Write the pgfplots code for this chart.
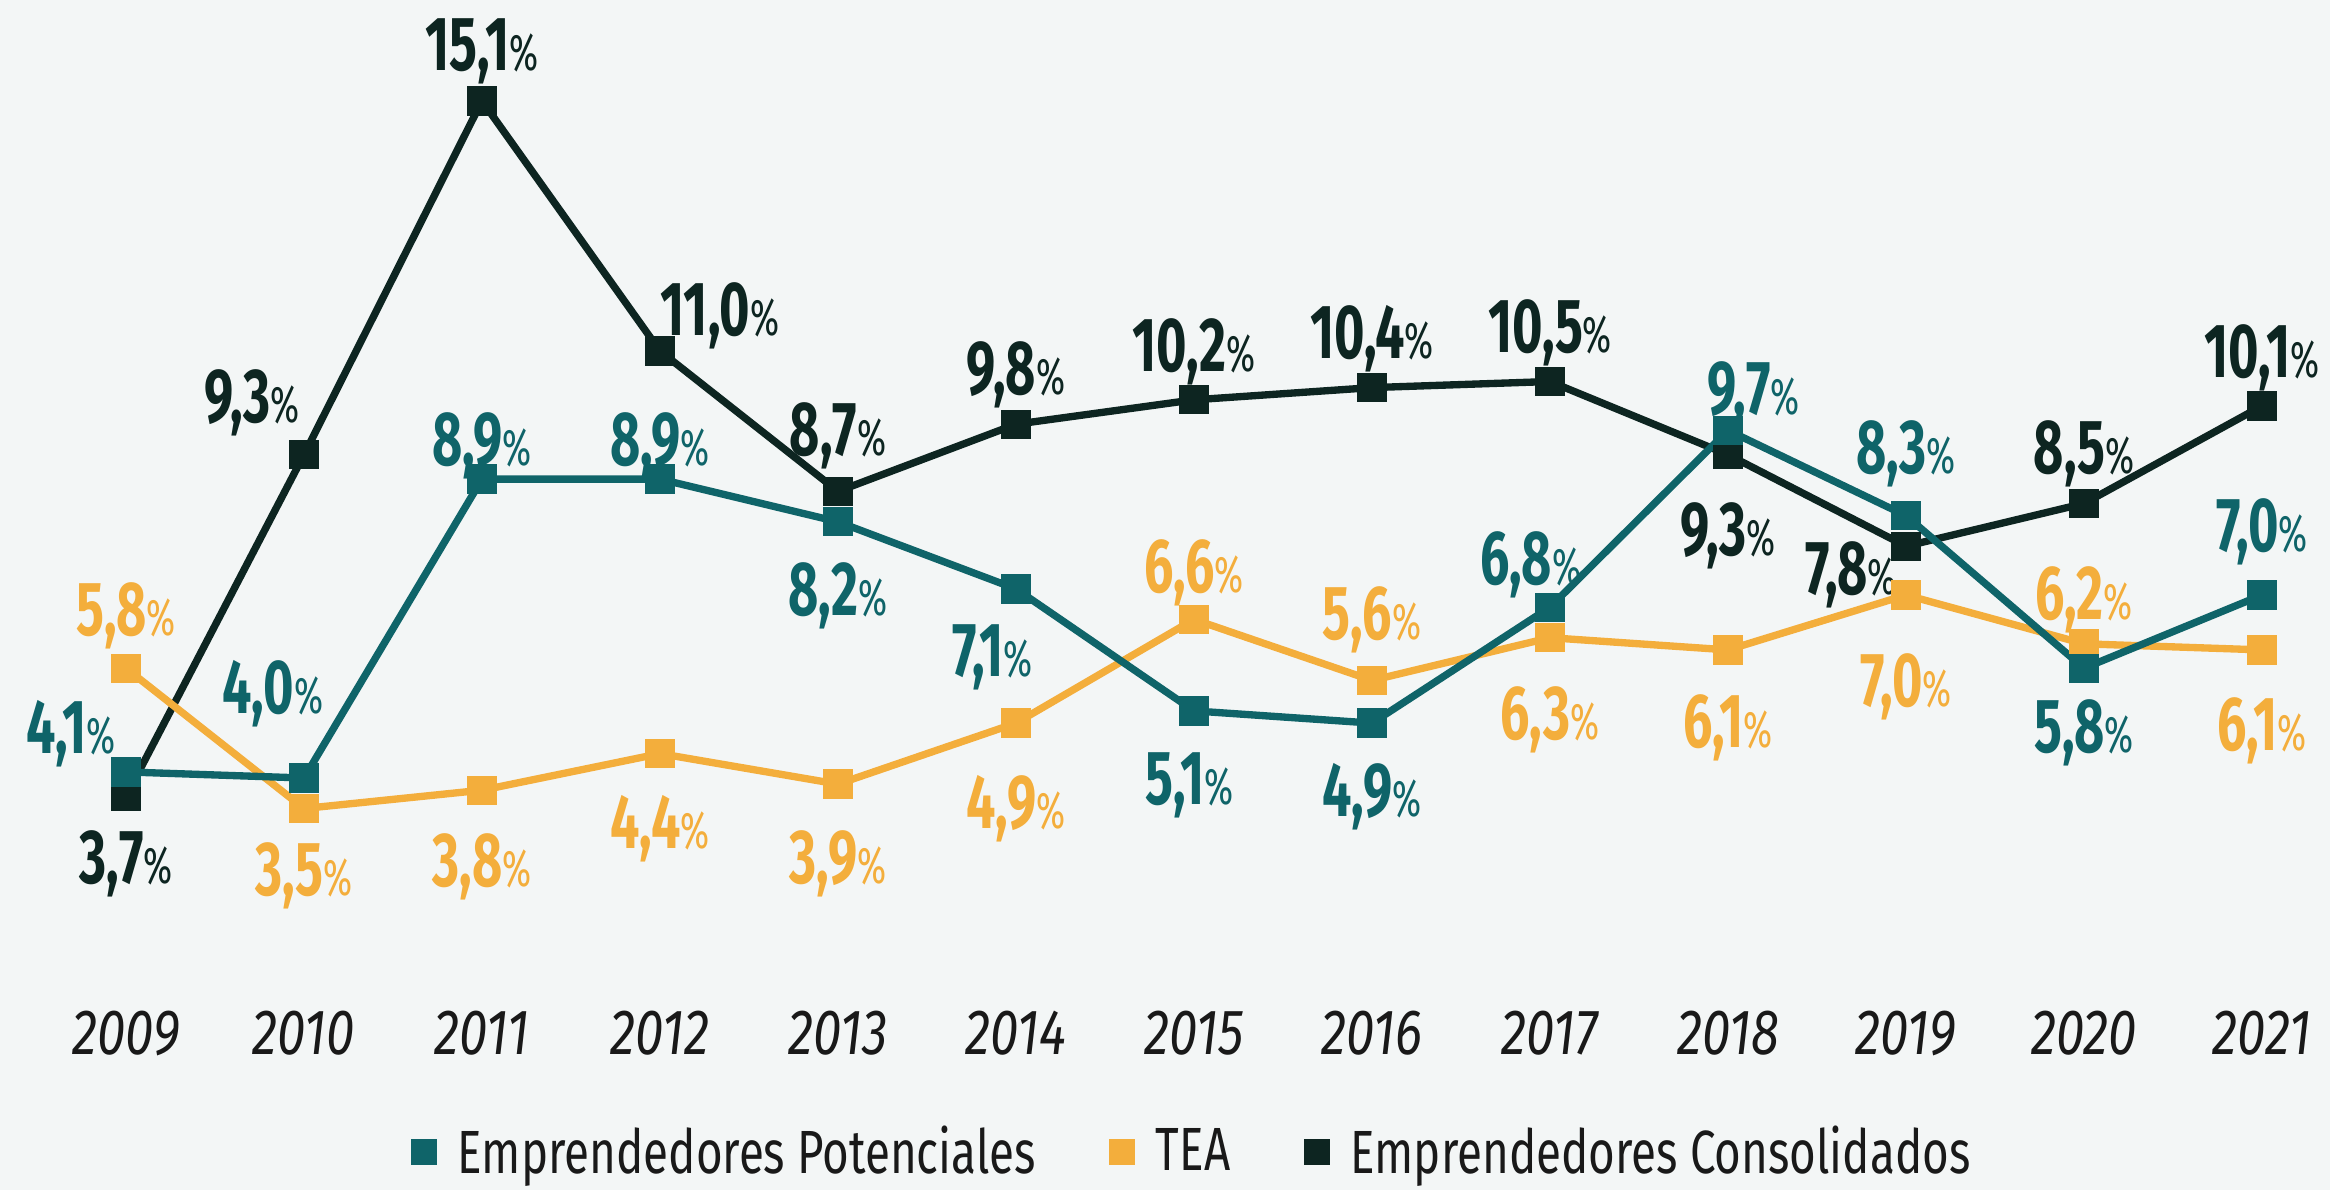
\documentclass[border=0pt]{standalone}
\usepackage{fontspec}
\setmainfont{Fira Sans}[FakeStretch=0.72]
\newfontfamily\labfont{Fira Sans}[FakeStretch=0.68]
\newfontfamily\yearfont{Fira Sans}[FakeStretch=0.8]
\newfontfamily\legfont{Fira Sans}[FakeStretch=0.75]
\usepackage{pgfplots}
\pgfplotsset{compat=1.18}
\usepackage{pgfplotstable}
\definecolor{cteal}{HTML}{0F6469}
\definecolor{corange}{HTML}{F3AE3C}
\definecolor{cdark}{HTML}{0D2521}
\definecolor{cbg}{HTML}{F3F6F6}

\pgfplotstableread{
x y dx dy
2009 3.7 0 -18.3
2010 9.3 -15.6 17.5
2011 15.1 0 16.9
2012 11.0 18.0 12.6
2013 8.7 0 18.7
2014 9.8 0 16.9
2015 10.2 0 16.5
2016 10.4 0 16.5
2017 10.5 0 16.5
2018 9.3 0 -22.3
2019 7.8 -16.5 -6.7
2020 8.5 0 16.9
2021 10.1 0 16.5
}\consol

\pgfplotstableread{
x y dx dy
2009 4.1 -16.5 13.4
2010 4.0 -9.4 27.2
2011 8.9 0 12.0
2012 8.9 0 12.0
2013 8.2 0 -20.1
2014 7.1 -7.1 -18.3
2015 5.1 -1.3 -20.1
2016 4.9 0 -20.1
2017 6.8 -5.8 14.7
2018 9.7 7.6 12.6
2019 8.3 0 20.5
2020 5.8 0 -17.4
2021 7.0 0 21.0
}\poten

\pgfplotstableread{
x y dx dy
2009 5.8 0 17.8
2010 3.5 0 -18.3
2011 3.8 0 -21.0
2012 4.4 0 -20.5
2013 3.9 0 -21.8
2014 4.9 0 -23.6
2015 6.6 0 16.0
2016 5.6 0 20.1
2017 6.3 0 -22.7
2018 6.1 0 -21.4
2019 7.0 0 -25.4
2020 6.2 0 15.2
2021 6.1 0 -22.3
}\tea

\pgfplotsset{
  lbl/.style={
    nodes near coords={\pgfmathprintnumber[fixed,fixed zerofill,precision=1,use comma]{\pgfplotspointmeta}{\fontsize{15.5}{15.5}\selectfont\mdseries\%}},
    point meta=\thisrow{y},
    visualization depends on={\thisrow{dx} \as \ldx},
    visualization depends on={\thisrow{dy} \as \ldy},
    every node near coord/.append style={font=\labfont\fontsize{23}{23}\selectfont\bfseries, text=#1, anchor=base, inner sep=0pt, xshift={\ldx*1pt}, yshift={\ldy*1pt-7.9pt}},
  }
}

\begin{document}
\begin{tikzpicture}
\fill[cbg] (0,0) rectangle (699pt,357pt);
\begin{axis}[
  at={(37.8pt,50.4pt)}, anchor=south west,
  scale only axis, width=640.8pt, height=292.8pt,
  xmin=2009, xmax=2021, ymin=0, ymax=16,
  clip=false,
  axis line style={draw=none}, tick style={draw=none},
  ytick=\empty,
  xtick={2009,2010,2011,2012,2013,2014,2015,2016,2017,2018,2019,2020,2021},
  xticklabels={2009,2010,2011,2012,2013,2014,2015,2016,2017,2018,2019,2020,2021},
  xticklabel style={font=\yearfont\fontsize{19.2}{19.2}\selectfont\itshape, anchor=base, inner sep=0pt, yshift=-9.6pt, text=black!90},
  /pgf/number format/assume math mode=true,
  every axis plot/.append style={line width=2.2pt, mark=square*, mark size=3.3pt, mark options={solid}},
  legend style={at={(0.5,-0.133)}, anchor=center, draw=none, fill=none,
    font=\legfont\fontsize{18.3}{18.3}\selectfont, text=black!90,
    /tikz/every even column/.append style={column sep=20pt}},
  legend columns=3,
  legend image code/.code={\fill[#1] (0pt,-2.85pt) rectangle (5.7pt,2.85pt); \path[draw=none,fill=none] (0pt,0pt) -- (11pt,0pt);},
]
\addlegendimage{cteal}
\addlegendentry{Emprendedores Potenciales}
\addlegendimage{corange}
\addlegendentry{TEA}
\addlegendimage{cdark}
\addlegendentry{Emprendedores Consolidados}

\addplot[cdark, forget plot, lbl=cdark] table[x=x,y=y] {\consol};
\addplot[corange, forget plot, lbl=corange] table[x=x,y=y] {\tea};
\addplot[cteal, forget plot, lbl=cteal] table[x=x,y=y] {\poten};
\end{axis}
\pgfresetboundingbox
\path (0,0) rectangle (699pt,357pt);
\end{tikzpicture}
\end{document}
